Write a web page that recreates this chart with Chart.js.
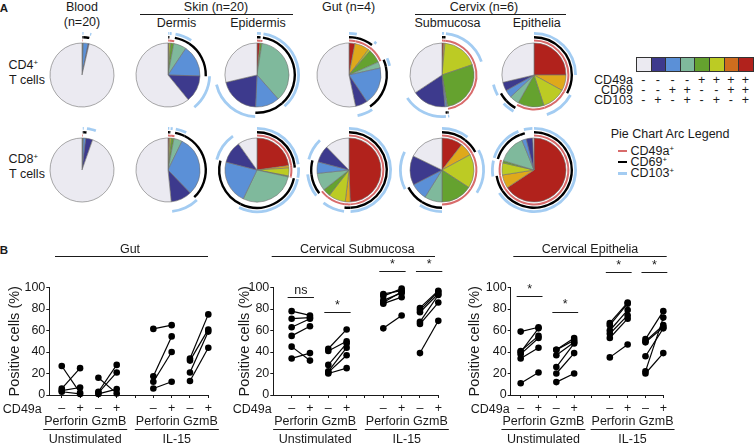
<!DOCTYPE html>
<html>
<head>
<meta charset="utf-8">
<script src="https://cdn.jsdelivr.net/npm/chart.js@4.4.1/dist/chart.umd.min.js"></script>
<style>
  body { margin: 0; width: 754px; height: 447px; position: relative; overflow: hidden; background: #fff;
         font-family: "Liberation Sans", Arial, sans-serif; font-size: 12.5px; color: #1a1a1a; }
  .t { position: absolute; white-space: nowrap; line-height: 1; }
  .sup { font-size: 0.62em; vertical-align: 0.55em; }
  .hl { position: absolute; height: 1px; background: #1a1a1a; }
  canvas { position: absolute; }
</style>
</head>
<body>
<script>
const family = '"Liberation Sans", Arial, sans-serif';
const ink = '#1a1a1a';

// ---- panel A: pie slices, clockwise from 12 o'clock ----
const pieCategories = ['49a+69+103+', '49a+69+103-', '49a+69-103+', '49a+69-103-',
                       '49a-69+103+', '49a-69+103-', '49a-69-103+', '49a-69-103-'];
const sliceColors = ['#b1221c', '#dfa91b', '#bccb24', '#65a22f', '#7fb99c', '#5b90d7', '#3d3a8d', '#ebeaf1'];
const legendColors = ['#ebeaf1', '#3d3a8d', '#5b90d7', '#7fb99c', '#65a22f', '#bccb24', '#cf6d1e', '#b1221c'];
const cd49aPos = [1, 1, 1, 1, 0, 0, 0, 0];
const cd69Pos  = [1, 1, 0, 0, 1, 1, 0, 0];
const cd103Pos = [1, 0, 1, 0, 1, 0, 1, 0];
const arcColors = ['#d86b6b', '#000000', '#a3ccf2']; // CD49a, CD69, CD103

const tissues = ['Blood', 'Dermis', 'Epidermis', 'Gut', 'Submucosa', 'Epithelia'];
const cd4Pies = [
  [0.2, 0, 0, 0.1, 0.3, 2.5, 0.5, 96.4],
  [0.3, 0.3, 0.8, 1.5, 6.5, 16.1, 13.6, 60.9],
  [1.5, 0, 0, 1, 36, 12.2, 20.6, 28.7],
  [3, 7.4, 1, 7, 3.1, 19.1, 6.1, 53.3],
  [0.8, 0.7, 18.3, 27.4, 0.5, 0.8, 17.2, 34.3],
  [25, 8, 12, 13.2, 4.8, 3.9, 4.4, 28.7]
];
const cd8Pies = [
  [0.1, 0, 0, 0.3, 0.3, 1.2, 3.5, 94.6],
  [0.5, 0.5, 0.8, 1.2, 4.2, 30.6, 10.6, 51.6],
  [22.8, 1.2, 4, 0.5, 28.6, 21.9, 11.2, 9.8],
  [49.4, 2.5, 8.6, 3.9, 8.9, 5.8, 8.6, 12.3],
  [10.5, 6.6, 17.1, 15.8, 8.9, 8.5, 14.8, 17.8],
  [65.7, 6.8, 6.1, 1.1, 14.2, 2.2, 3.3, 0.6]
];

// ---- panel B: paired values (CD49a- vs CD49a+), groups: Perforin/GzmB unstim, Perforin/GzmB IL-15 ----
const pairX = [[1, 2], [3, 4], [6, 7], [8, 9]];
const xTickValues = [1, 2, 3, 4, 5, 6, 7, 8, 9];
const xTickLabels = ['\u2013', '+', '\u2013', '+', '', '\u2013', '+', '\u2013', '+'];
const groupNames = ['Unstimulated', 'IL-15'];
const groupCenters = [2.5, 7.5];

const gutNeg = [[27, 6, 4, 3], [16, 3, 2, 1], [61.5, 17.5, 12.3, 6], [34, 32, 21, 13]];
const gutPos = [[2, 25, 7, 1], [1.5, 28, 21, 5.5], [65, 54.5, 40, 12.3], [75, 61, 59, 44]];

const subNeg = [[78, 71, 63, 55, 45, 34], [43, 41, 28, 22, 21, 20], [94, 92, 88, 86, 85, 62], [81, 79, 77, 68, 66, 39]];
const subPos = [[74, 72, 71, 64, 32, 39], [61, 50, 48, 44, 37, 25], [97, 99, 95, 96, 91, 74], [97, 96, 94, 93, 86, 69]];
const subSigGroup = [0, 1, 2, 3];
const subSigY = [91, 77, 115, 115];
const subSigText = ['ns', '*', '*', '*'];

const epiNeg = [[59, 41, 40, 38, 34, 11], [42, 42, 37, 26, 20, 12], [67, 65, 60, 57, 53, 35], [52, 50, 49, 36, 22, 20]];
const epiPos = [[63, 55, 62, 53, 44, 21], [53, 51, 49, 48, 39, 20], [86, 85, 79, 74, 71, 47], [78, 65, 63, 62, 72, 39]];
const epiSigGroup = [0, 1, 2, 3];
const epiSigY = [92, 77.6, 114, 114];
const epiSigText = ['*', '*', '*', '*'];

// ---------- helpers ----------
function put(html, x, y, align, extra) {
  const d = document.createElement('div');
  d.className = 't';
  d.innerHTML = html;
  d.style.left = x + 'px';
  d.style.top = y + 'px';
  const tx = align === 'left' ? '0' : align === 'right' ? '-100%' : '-50%';
  d.style.transform = 'translate(' + tx + ',-50%)';
  if (extra) d.style.cssText += extra;
  document.body.appendChild(d);
  return d;
}
function hl(x0, x1, y, h, color) {
  const d = document.createElement('div');
  d.className = 'hl';
  d.style.left = x0 + 'px'; d.style.top = y + 'px'; d.style.width = (x1 - x0) + 'px';
  if (h) d.style.height = h + 'px';
  if (color) d.style.background = color;
  document.body.appendChild(d);
}
function canvasAt(x, y, w, h) {
  const c = document.createElement('canvas');
  c.width = w; c.height = h;
  c.style.left = x + 'px'; c.style.top = y + 'px';
  document.body.appendChild(c);
  return c;
}

// ---------- panel A text ----------
put('A', 4, 8.5, 'center', 'font-weight:bold;font-size:11.5px;');
put('Blood', 82, 6.5);
put('(n=20)', 82, 21.5);
put('Skin (n=20)', 216, 6.5);
hl(140, 293, 13.5);
put('Dermis', 176.5, 22.5);
put('Epidermis', 258, 22.5);
put('Gut (n=4)', 348.5, 7);
put('Cervix (n=6)', 484, 6.5);
hl(415, 566, 13.8);
put('Submucosa', 447.5, 22.5);
put('Epithelia', 536.7, 22.5);
put('CD4<span class="sup">+</span>', 8.5, 65, 'left');
put('T cells', 9, 80, 'left');
put('CD8<span class="sup">+</span>', 8.5, 159, 'left');
put('T cells', 9, 174, 'left');
put('B', 4, 251, 'center', 'font-weight:bold;font-size:11.5px;');

// colour key
const key = document.createElement('div');
key.style.cssText = 'position:absolute;left:636px;top:57px;display:flex;border:1px solid #333;';
legendColors.forEach((c, i) => {
  const cell = document.createElement('div');
  cell.style.cssText = 'width:13.6px;height:12.5px;background:' + c + ';' + (i < 7 ? 'border-right:1px solid #333;' : '');
  key.appendChild(cell);
});
document.body.appendChild(key);
const keyRows = [['CD49a', [0, 0, 0, 0, 1, 1, 1, 1]], ['CD69', [0, 0, 1, 1, 0, 0, 1, 1]], ['CD103', [0, 1, 0, 1, 0, 1, 0, 1]]];
keyRows.forEach(([name, signs], r) => {
  const yy = 80 + r * 9.9;
  put(name, 633, yy, 'right');
  signs.forEach((s, i) => put(s ? '+' : '-', 643.3 + i * 14.6, yy));
});

// arc legend
put('Pie Chart Arc Legend', 610.7, 134, 'left');
['CD49a', 'CD69', 'CD103'].forEach((name, i) => {
  const yy = 151 + i * 11.2;
  hl(618, 626.5, yy - 1.3, 2.6, arcColors[i]);
  put(name + '<span class="sup">+</span>', 630.5, yy, 'left');
});

// ---------- pies ----------
const pieX = [82, 168.3, 257, 349, 442, 533.7];
const pieRowY = [74.7, 170];
const clear = 'rgba(0,0,0,0)';

function makePie(cx, cy, values) {
  const ring = (flags, color) => values.map((v, i) => flags[i] ? color : clear);
  const c = canvasAt(cx - 50, cy - 50, 100, 100);
  new Chart(c, {
    type: 'pie',
    data: {
      labels: pieCategories,
      datasets: [
        { data: values, backgroundColor: ring(cd103Pos, arcColors[2]), borderWidth: 0, weight: 2.8 },
        { data: values, backgroundColor: clear, borderWidth: 0, weight: 1.2 },
        { data: values, backgroundColor: ring(cd69Pos, arcColors[1]), borderWidth: 0, weight: 2.4 },
        { data: values, backgroundColor: clear, borderWidth: 0, weight: 1.2 },
        { data: values, backgroundColor: ring(cd49aPos, arcColors[0]), borderWidth: 0, weight: 2 },
        { data: values, backgroundColor: clear, borderWidth: 0, weight: 1.4 },
        { data: values, backgroundColor: sliceColors, borderColor: '#707070', borderWidth: 0.6, weight: 32 }
      ]
    },
    options: {
      responsive: false, animation: false, events: [], radius: 43,
      layout: { padding: 0 },
      plugins: { legend: { display: false }, tooltip: { enabled: false } }
    }
  });
}
tissues.forEach((t, i) => {
  makePie(pieX[i], pieRowY[0], cd4Pies[i]);
  makePie(pieX[i], pieRowY[1], cd8Pies[i]);
});

// ---------- panel B charts ----------
function hline(ctx, x0, x1, y) {
  const yy = Math.round(y) + 0.5;
  ctx.beginPath(); ctx.moveTo(x0, yy); ctx.lineTo(x1, yy); ctx.stroke();
}

function annotPlugin(p) {
  return {
    id: 'annot',
    afterDraw(chart) {
      const { ctx } = chart;
      const x = chart.scales.x, y = chart.scales.y;
      const base = y.getPixelForValue(0);
      ctx.save();
      ctx.fillStyle = ink; ctx.strokeStyle = ink; ctx.lineWidth = 1;
      ctx.font = '12.5px ' + family;
      ctx.textAlign = 'center'; ctx.textBaseline = 'middle';
      ctx.fillText(p.title, p.titleX, 10);
      hline(ctx, p.lineL, p.lineR, 15.5);
      ctx.textAlign = 'right';
      ctx.fillText('CD49a', x.getPixelForValue(1) - p.cdGap, base + 15);
      ctx.textAlign = 'center';
      const row = 'Perforin GzmB';
      const w = ctx.measureText(row).width;
      groupNames.forEach((g, k) => {
        const c = x.getPixelForValue(groupCenters[k]) - 4;
        ctx.fillText(row, c, base + 27);
        hline(ctx, c - w / 2 - 1, c + w / 2 + 1, base + 33.5);
        ctx.fillText(g, c, base + 45);
      });
      (p.sigY || []).forEach((v, k) => {
        const g = p.sigGroup[k];
        const x0 = x.getPixelForValue(pairX[g][0]) - 4, x1 = x.getPixelForValue(pairX[g][1]) + 4;
        const yy = y.getPixelForValue(v);
        hline(ctx, x0, x1, yy);
        ctx.fillText(p.sigText[k], (x0 + x1) / 2, yy - 7);
      });
      ctx.restore();
    }
  };
}

function makePanel(p) {
  const c = canvasAt(p.left, 240, p.width, 207);
  const datasets = [];
  p.neg.forEach((grp, g) => grp.forEach((v, i) => {
    datasets.push({
      data: [{ x: pairX[g][0], y: v }, { x: pairX[g][1], y: p.pos[g][i] }],
      showLine: true, borderColor: '#000', borderWidth: 1.2, tension: 0,
      pointRadius: 3.3, pointBackgroundColor: '#000', pointBorderWidth: 0, clip: false
    });
  }));
  const font = { family: family, size: 12.5 };
  new Chart(c, {
    type: 'scatter',
    data: { datasets: datasets },
    options: {
      responsive: false, animation: false, events: [],
      layout: { padding: { top: 47.5, right: p.padRight, left: 0, bottom: 0 } },
      plugins: { legend: { display: false }, tooltip: { enabled: false } },
      scales: {
        x: {
          type: 'linear', min: p.xMin, max: 9,
          afterBuildTicks: s => { s.ticks = xTickValues.map(v => ({ value: v })); },
          afterFit: s => { s.height = 52; },
          ticks: { callback: v => xTickLabels[xTickValues.indexOf(v)], color: ink, font: font, padding: 3, maxRotation: 0, autoSkip: false },
          grid: { drawOnChartArea: false, tickLength: 3, color: ink },
          border: { color: ink, width: 1 }
        },
        y: {
          min: 0, max: 100,
          afterFit: s => { s.width = p.yWidth; },
          ticks: { stepSize: 20, color: ink, font: font, padding: 1 },
          grid: { drawOnChartArea: false, tickLength: 3, color: ink },
          border: { color: ink, width: 1 },
          title: { display: true, text: 'Positive cells (%)', color: ink, font: { family: family, size: 14.5 }, padding: { top: 6.3, bottom: 0 } }
        }
      }
    },
    plugins: [annotPlugin(p)]
  });
}

makePanel({ left: 0, width: 230, yWidth: 49.3, xMin: 0.32, padRight: 21.7, title: 'Gut', titleX: 130,
            lineL: 55, lineR: 208, cdGap: 20, neg: gutNeg, pos: gutPos });
makePanel({ left: 230, width: 230, yWidth: 43.3, xMin: 0, padRight: 21.7, title: 'Cervical Submucosa', titleX: 127.3,
            lineL: 41.7, lineR: 205, cdGap: 20, neg: subNeg, pos: subPos,
            sigGroup: subSigGroup, sigY: subSigY, sigText: subSigText });
makePanel({ left: 460, width: 294, yWidth: 50.7, xMin: 0.44, padRight: 90.7, title: 'Cervical Epithelia', titleX: 130,
            lineL: 53.3, lineR: 206.7, cdGap: 11, neg: epiNeg, pos: epiPos,
            sigGroup: epiSigGroup, sigY: epiSigY, sigText: epiSigText });
</script>
</body>
</html>
